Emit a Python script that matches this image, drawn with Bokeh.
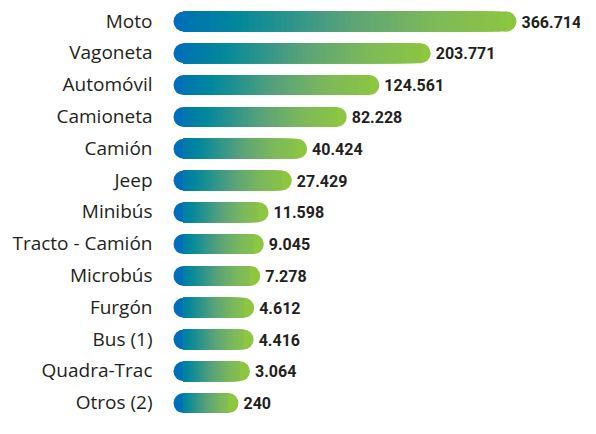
import numpy as np
from bokeh.plotting import figure
from bokeh.models import ColumnDataSource, Range1d
from bokeh.core.properties import value
from bokeh.embed import file_html
from bokeh.resources import INLINE

# ---- data ----
categories = ["Moto", "Vagoneta", "Automóvil", "Camioneta", "Camión", "Jeep",
              "Minibús", "Tracto - Camión", "Microbús", "Furgón", "Bus (1)",
              "Quadra-Trac", "Otros (2)"]
values = [366714, 203771, 124561, 82228, 40424, 27429, 11598, 9045, 7278,
          4612, 4416, 3064, 240]
value_labels = ["366.714", "203.771", "124.561", "82.228", "40.424", "27.429",
                "11.598", "9.045", "7.278", "4.612", "4.416", "3.064", "240"]

# ---- style / layout constants ----
W, H = 580, 418
BAR_LEFT = 173          # x units = screen px in this figure
LABEL_RIGHT = 152
BASE, SPAN, EXP = 62, 281, 0.62   # compressed (power) length scale of the infographic
CAP = 10                # half bar height, px
PITCH = 31.8            # px per category
TOP = 21                # px, centre of first bar
BAR_H = 20 / PITCH      # in category units
N_SLICES = 50

stops_t = [0.0, 0.18, 0.5, 0.75, 1.0]
stops_rgb = np.array([[0, 110, 184], [0, 135, 156], [88, 162, 122],
                      [125, 185, 90], [141, 198, 63]], dtype=float)


def grad(t):
    return "#%02x%02x%02x" % tuple(int(round(np.interp(t, stops_t, stops_rgb[:, c])))
                                   for c in range(3))


vals = np.array(values, dtype=float)
lengths = BASE + SPAN * (vals / vals.max()) ** EXP
ys = np.arange(len(categories))
rights = BAR_LEFT + lengths

# gradient slices (layered, longest first) + round caps
sl_y, sl_r, sl_c = [], [], []
for i, L in enumerate(lengths):
    inner = L - 2 * CAP
    for k in range(N_SLICES, 0, -1):
        sl_y.append(ys[i])
        sl_r.append(BAR_LEFT + CAP + inner * k / N_SLICES)
        pos = CAP + inner * (k - 0.5) / N_SLICES
        sl_c.append(grad(pos / L))
slices = ColumnDataSource(dict(y=sl_y, right=sl_r, color=sl_c))

caps = ColumnDataSource(dict(
    x=list(BAR_LEFT + CAP + np.zeros(len(ys))) + list(rights - CAP),
    y=list(ys) + list(ys),
    color=[grad(0.0)] * len(ys) + [grad(1.0)] * len(ys)))

top_u = TOP / PITCH
p = figure(width=W, height=H, output_backend="svg", toolbar_location=None,
           x_range=Range1d(0, W), y_range=Range1d(H / PITCH - top_u, -top_u),
           min_border=0, outline_line_color=None,
           background_fill_color="white", border_fill_color="white")
p.axis.visible = False
p.grid.visible = False

p.scatter(x="x", y="y", size=2 * CAP, color="color", line_color=None, source=caps)
p.hbar(y="y", left=BAR_LEFT + CAP, right="right", height=BAR_H,
       fill_color="color", line_color=None, source=slices)

p.text(x=[LABEL_RIGHT] * len(ys), y=ys, text=categories, text_align="right",
       text_baseline="middle", text_font=value("Open Sans"),
       text_font_size="19px", text_color="#231f20", y_offset=-1)
p.text(x=rights + 5, y=ys, text=value_labels, text_align="left",
       text_baseline="middle", text_font=value("Roboto"),
       text_font_style="bold", text_font_size="16px", text_color="#231f20")

open("out.html", "w").write(file_html(p, INLINE))
